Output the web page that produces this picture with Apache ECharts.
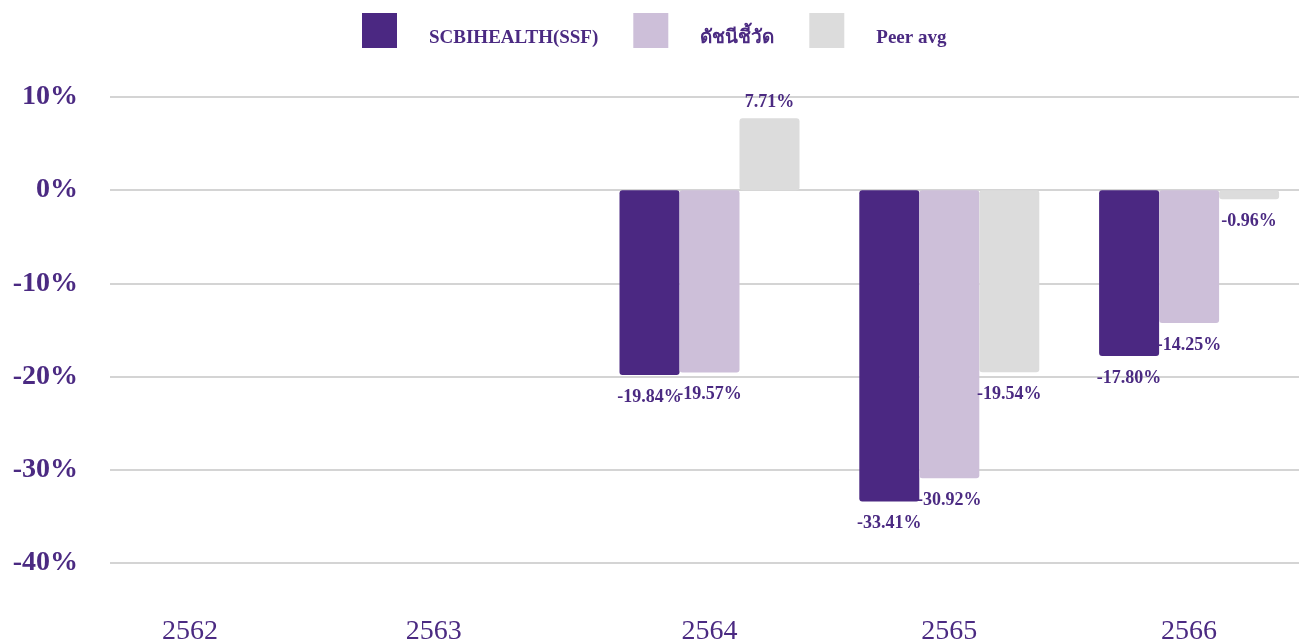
<!DOCTYPE html>
<html>
<head>
<meta charset="utf-8">
<script src="https://cdn.jsdelivr.net/npm/echarts@6/dist/echarts.min.js"></script>
<style>
  html, body { margin: 0; padding: 0; background: #fff; }
  #chart { width: 1299px; height: 642px; }
</style>
</head>
<body>
<div id="chart"></div>
<script>
// ข้อมูลผลตอบแทนรายปี
var years = ['2562', '2563', '2564', '2565', '2566'];
var fundValues = [null, null, -19.84, -33.41, -17.80];
var benchmarkValues = [null, null, -19.57, -30.92, -14.25];
var peerValues = [null, null, 7.71, -19.54, -0.96];
var yTicks = [-40, -30, -20, -10, 0, 10];

var textColor = '#4B2A82';
var font = '"Liberation Serif", "Times New Roman", serif';

function labelOf(v) {
  return {
    show: true,
    position: v >= 0 ? 'top' : 'bottom',
    distance: v >= 0 ? 7 : 13,
    color: textColor,
    fontFamily: font,
    fontWeight: 'bold',
    fontSize: 18,
    formatter: function (p) { return p.value.toFixed(2) + '%'; }
  };
}

function toData(arr) {
  return arr.map(function (v) {
    if (v === null) return null;
    return { value: v, label: labelOf(v) };
  });
}

var chart = echarts.init(document.getElementById('chart'), null, { renderer: 'canvas' });

chart.setOption({
  animation: false,
  color: ['#4B2882', '#CDBFD9', '#DCDCDC'],
  legend: {
    top: 13,
    left: 362,
    padding: 0,
    itemWidth: 35,
    itemHeight: 35,
    itemGap: 35,
    icon: 'rect',
    // บรรทัดว่างด้านบนเพื่อดันข้อความลงต่ำกว่ากึ่งกลางกล่องสี
    formatter: '{s| }\n{t|{name}}',
    textStyle: {
      color: textColor,
      fontFamily: font,
      fontWeight: 'bold',
      fontSize: 19,
      padding: [0, 0, 0, 27],
      rich: {
        s: { fontSize: 1, lineHeight: 16 },
        t: { color: textColor, fontFamily: font, fontWeight: 'bold', fontSize: 19, lineHeight: 22 }
      }
    }
  },
  grid: {
    top: 97, left: 110, width: 1199, height: 466,
    outerBoundsMode: 'none', containLabel: false
  },
  xAxis: {
    type: 'category',
    data: years,
    axisLine: { show: false },
    axisTick: { show: false },
    axisLabel: {
      margin: 55,
      color: textColor,
      fontFamily: font,
      fontSize: 28,
      formatter: function (v, i) {
        // ป้ายสองปีแรกเลื่อนไปทางซ้ายเล็กน้อยเหมือนต้นฉบับ
        if (i === 0) return '{s0|' + v + '}';
        if (i === 1) return '{s1|' + v + '}';
        return v;
      },
      rich: {
        s0: { fontSize: 28, fontFamily: font, color: textColor, padding: [0, 80, 0, 0] },
        s1: { fontSize: 28, fontFamily: font, color: textColor, padding: [0, 72, 0, 0] }
      }
    }
  },
  yAxis: {
    type: 'value',
    min: yTicks[0],
    max: yTicks[yTicks.length - 1],
    interval: 10,
    axisLine: { show: false },
    axisTick: { show: false },
    splitLine: { lineStyle: { color: '#D4D4D4', width: 2 } },
    axisLabel: {
      margin: 32,
      color: textColor,
      fontFamily: font,
      fontWeight: 'bold',
      fontSize: 28,
      padding: [6, 0, 0, 0],
      formatter: '{value}%'
    }
  },
  series: [
    {
      name: 'SCBIHEALTH(SSF)',
      type: 'bar',
      barWidth: 60,
      barGap: '0%',
      itemStyle: { borderRadius: 3 },
      data: toData(fundValues)
    },
    {
      name: 'ดัชนีชี้วัด',
      type: 'bar',
      barWidth: 60,
      barGap: '0%',
      itemStyle: { borderRadius: 3 },
      data: toData(benchmarkValues)
    },
    {
      name: 'Peer avg',
      type: 'bar',
      barWidth: 60,
      barGap: '0%',
      itemStyle: { borderRadius: 3 },
      data: toData(peerValues)
    }
  ]
});
</script>
</body>
</html>
